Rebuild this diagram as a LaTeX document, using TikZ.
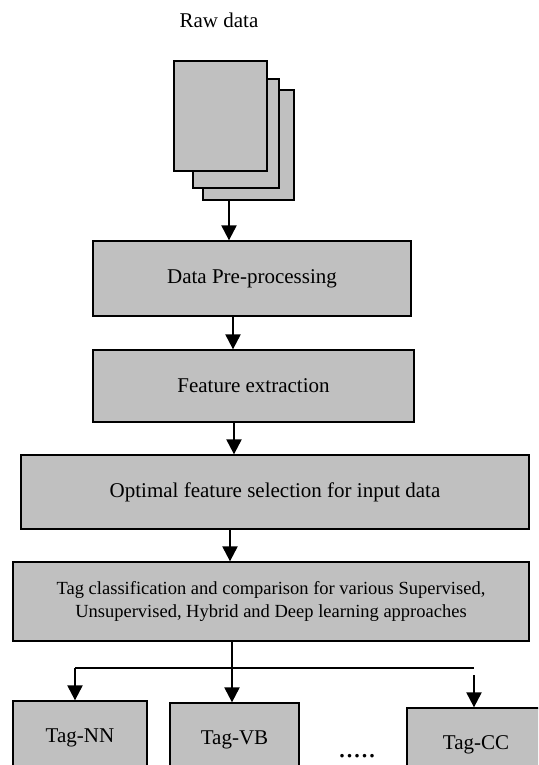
\documentclass[tikz,border=0pt]{standalone}
\usepackage{fontspec}
\setmainfont{Liberation Serif}
\usetikzlibrary{arrows.meta}
\definecolor{boxgray}{RGB}{192,192,192}
\tikzset{
  stage/.style={draw,fill=boxgray,line width=.65pt,inner sep=0pt,
    font=\fontsize{10.5}{12.6}\selectfont},
  flow/.style={line width=1.1pt,-{Triangle[length=7.5pt,width=7.5pt]}},
  bus/.style={line width=.6pt}
}
\begin{document}
\begin{tikzpicture}[x=.5pt,y=-.5pt]
\clip (0,0) rectangle (538,765);
\node[font=\fontsize{10.5}{12.6}\selectfont] (raw) at (219,20) {Raw data};
\node[stage,minimum width=45.5pt,minimum height=55pt] (back) at (248.5,145) {};
\node[stage,minimum width=43pt,minimum height=54.5pt] (mid) at (236,133.5) {};
\node[stage,minimum width=46.5pt,minimum height=55pt] (front) at (220.5,116) {};
\node[stage,minimum width=159pt,minimum height=37.5pt] (pre) at (252,278.5) {Data Pre-processing};
\node[stage,minimum width=160.5pt,minimum height=36pt] (feat) at (253.5,386) {Feature extraction};
\node[stage,minimum width=254pt,minimum height=37pt] (opt) at (275,492) {Optimal feature selection for input data};
\node[stage,minimum width=258pt,minimum height=39.5pt,align=center,
  font=\fontsize{9.25}{11.5}\selectfont] (tag) at (271,601.5)
  {Tag classification and comparison for various Supervised,\\
   Unsupervised, Hybrid and Deep learning approaches};
\foreach \n/\x/\y/\w/\t in {nn/80/738/67/Tag-NN,vb/234.5/740/64.5/Tag-VB,cc/476/745/69/Tag-CC}
  \node[stage,minimum width=\w pt,minimum height=37pt] (\n) at (\x,\y) {\t};
\node[font=\fontsize{15}{18}\selectfont,anchor=base,inner sep=0pt] (more) at (357,757) {.....};
\draw[flow] ([xshift=-9.75pt]back.south) -- ([xshift=-9.75pt]back.south |- pre.north);
\draw[flow] ([xshift=-9.5pt]pre.south) -- ([xshift=-9.5pt]pre.south |- feat.north);
\draw[flow] ([xshift=-9.75pt]feat.south) -- ([xshift=-9.75pt]feat.south |- opt.north);
\draw[flow] ([xshift=-22.5pt]opt.south) -- ([xshift=-22.5pt]opt.south |- tag.north);
\coordinate (fork) at (232,668);
\coordinate (busl) at (75,668);
\coordinate (busr) at (474,668);
\coordinate (ccin) at (474,675);
\draw[bus] (fork |- tag.south) -- (fork);
\draw[bus] (busl) -- (busr);
\draw[flow] (busl) -- (busl |- nn.north);
\draw[flow] (fork) -- (fork |- vb.north);
\draw[flow] (ccin) -- (ccin |- cc.north);
\end{tikzpicture}
\end{document}
